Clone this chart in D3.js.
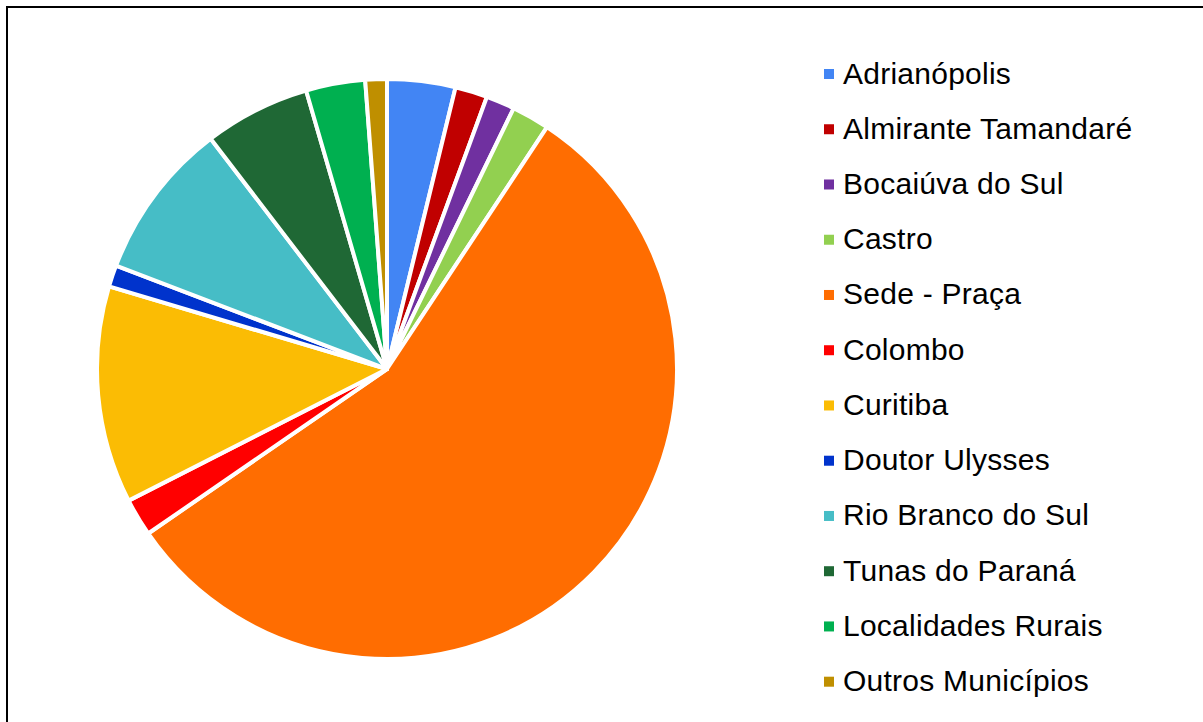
<!DOCTYPE html>
<html>
<head>
<meta charset="utf-8">
<script src="https://cdn.jsdelivr.net/npm/d3@7"></script>
<style>
  html, body { margin: 0; padding: 0; background: #ffffff; }
  svg { display: block; }
</style>
</head>
<body>
<svg id="chart" width="1203" height="722"></svg>
<script>
// Share of responses by place of origin (percent)
const categories = [
  "Adrianópolis", "Almirante Tamandaré", "Bocaiúva do Sul", "Castro",
  "Sede - Praça", "Colombo", "Curitiba", "Doutor Ulysses",
  "Rio Branco do Sul", "Tunas do Paraná", "Localidades Rurais", "Outros Municípios"
];
const values = [3.8, 1.8, 1.6, 2.1, 56.1, 2.1, 12.1, 1.2, 8.8, 5.9, 3.3, 1.2];
const colors = [
  "#4285F4", "#C00000", "#7030A0", "#92D050",
  "#FF6D01", "#FF0000", "#FBBC04", "#0033CC",
  "#46BDC6", "#1F6835", "#00B050", "#BF8F00"
];

const svg = d3.select("#chart");
const W = 1203, H = 722;

// outer frame (right and bottom edges fall outside the view)
svg.append("rect")
  .attr("x", 7).attr("y", 7)
  .attr("width", W + 20).attr("height", H + 20)
  .attr("fill", "#ffffff")
  .attr("stroke", "#000000")
  .attr("stroke-width", 2);

const data = categories.map((c, i) => ({ name: c, value: values[i], color: colors[i] }));

const cx = 387, cy = 369, r = 290;

const pie = d3.pie()
  .value(d => d.value)
  .sort(null)
  .startAngle(0)
  .endAngle(2 * Math.PI);

const arc = d3.arc().innerRadius(0).outerRadius(r);

const g = svg.append("g").attr("transform", `translate(${cx},${cy})`);
g.selectAll("path")
  .data(pie(data))
  .join("path")
  .attr("d", arc)
  .attr("fill", d => d.data.color)
  .attr("stroke", "#ffffff")
  .attr("stroke-width", 4)
  .attr("stroke-linejoin", "round");

// legend
const color = d3.scaleOrdinal().domain(categories).range(colors);
const legendY = d3.scalePoint()
  .domain(categories)
  .range([74, 681.7]);

const legend = svg.append("g");
const items = legend.selectAll("g")
  .data(categories)
  .join("g")
  .attr("transform", d => `translate(824,${legendY(d)})`);

items.append("rect")
  .attr("x", 0).attr("y", -5)
  .attr("width", 10).attr("height", 10)
  .attr("fill", d => color(d));

items.append("text")
  .attr("x", 19)
  .attr("y", 9.5)
  .attr("font-family", "Liberation Sans, Arial, sans-serif")
  .attr("font-size", "30px")
  .attr("letter-spacing", "0.25px")
  .attr("fill", "#000000")
  .text(d => d);
</script>
</body>
</html>
